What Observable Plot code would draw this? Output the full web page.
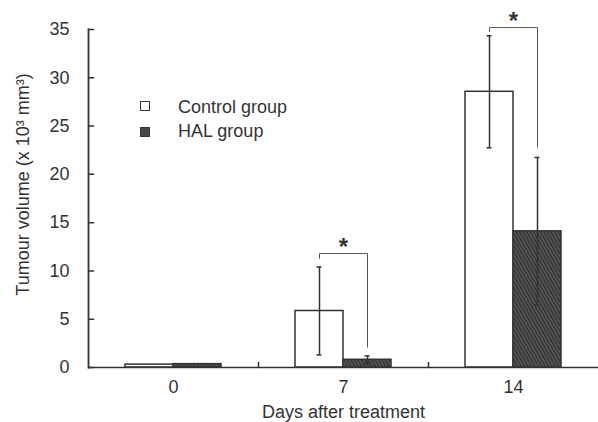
<!DOCTYPE html>
<html><head><meta charset="utf-8">
<script src="https://cdn.jsdelivr.net/npm/d3@7"></script>
<script src="https://cdn.jsdelivr.net/npm/@observablehq/plot@0.6"></script>
<style>
body{margin:0;background:#fff;}
#chart{position:relative;width:598px;height:422px;font-family:"Liberation Sans",Arial,sans-serif;color:#333;}
.sw{position:absolute;width:10px;height:10px;border:1.5px solid #333;box-sizing:border-box;}
.lt{position:absolute;font-size:18px;line-height:18px;white-space:nowrap;}
</style></head><body><div id="chart">
<div class="sw" style="left:140px;top:101px;background:#fff"></div>
<div class="lt" style="left:178px;top:98px">Control group</div>
<div class="sw" style="left:140px;top:127px;background:#474747"></div>
<div class="lt" style="left:178px;top:121.5px">HAL group</div>
</div>
<script>
const days = ["0", "7", "14"];
const groups = ["Control group", "HAL group"];
const controlMean = [0.3, 5.85, 28.55];
const controlSD = [0, 4.55, 5.8];
const halMean = [0.35, 0.8, 14.1];
const halSD = [0, 0.4, 7.65];
const sigDays = ["7", "14"];
const sigTop = [11.8, 35.2];
const sigLeftEnd = [11.3, 34.8];
const sigRightEnd = [2.1, 22.8];
const yTicks = [0, 5, 10, 15, 20, 25, 30, 35];
const yLabel = "Tumour volume (x 10³ mm³)";
const xLabel = "Days after treatment";

const bars = days.flatMap((d, i) => [
  {day: d, group: groups[0], mean: controlMean[i], sd: controlSD[i]},
  {day: d, group: groups[1], mean: halMean[i], sd: halSD[i]}
]);
const err = bars.filter(b => b.sd > 0);
const bracketPts = sigDays.flatMap((d, i) => [
  {day: d, group: groups[0], y: sigLeftEnd[i]},
  {day: d, group: groups[0], y: sigTop[i]},
  {day: d, group: groups[1], y: sigTop[i]},
  {day: d, group: groups[1], y: sigRightEnd[i]}
]);
const stars = sigDays.map((d, i) => ({day: d, y: sigTop[i]}));

const ink = "#333";
const lineShape = {draw(context, l) { context.moveTo(0, 0); context.lineTo(0, -l); }};
const plot = Plot.plot({
  width: 598, height: 422,
  marginLeft: 88, marginRight: 0, marginTop: 29, marginBottom: 55,
  style: {fontFamily: "Liberation Sans, Arial, sans-serif", fontSize: "18px", color: ink, background: "transparent"},
  fx: {domain: days, padding: 0, label: xLabel, labelAnchor: "center", labelArrow: "none", labelOffset: 50, tickSize: 0, tickPadding: 13},
  x: {domain: groups, paddingInner: 0, paddingOuter: 0.735, axis: null},
  y: {domain: [0, 35], ticks: yTicks, tickSize: 0, tickPadding: 19, line: true, label: null},
  marks: [
    Plot.frame({anchor: "left", facetAnchor: "left", stroke: ink, strokeWidth: 1.8}),
    Plot.barY(bars.filter(b => b.group === groups[0]), {fx: "day", x: "group", y: "mean", fill: "#fff", stroke: ink, strokeWidth: 1.5}),
    Plot.barY(bars.filter(b => b.group === groups[1]), {fx: "day", x: "group", y: "mean", fill: "url(#hatch)", stroke: ink, strokeWidth: 1.5}),
    Plot.ruleX(err, {fx: "day", x: "group", y1: d => d.mean - d.sd, y2: d => d.mean + d.sd, stroke: ink, strokeWidth: 1.5}),
    Plot.tickY(err, {fx: "day", x: "group", y: d => d.mean + d.sd, insetLeft: 21.5, insetRight: 21.5, stroke: ink, strokeWidth: 1.5}),
    Plot.tickY(err, {fx: "day", x: "group", y: d => d.mean - d.sd, insetLeft: 21.5, insetRight: 21.5, stroke: ink, strokeWidth: 1.5}),
    Plot.line(bracketPts, {fx: "day", x: "group", y: "y", z: "day", stroke: "#555", strokeWidth: 1}),
    Plot.text(stars, {fx: "day", y: "y", text: () => "*", fontSize: 24, fontWeight: "bold", dy: -6, fill: ink}),
    Plot.ruleY([0], {stroke: ink, strokeWidth: 1.6}),
    // inward y ticks on the left facet
    Plot.vector(yTicks, {fx: () => days[0], y: d => d, frameAnchor: "left", rotate: 90, length: 5, anchor: "start", shape: lineShape, stroke: ink, strokeWidth: 1.5}),
    // inward x ticks at group boundaries
    Plot.vector(days.slice(1), {fx: d => d, frameAnchor: "bottom-left", length: 5, anchor: "start", shape: lineShape, stroke: ink, strokeWidth: 1.5}),
    // rotated y-axis title
    Plot.text([yLabel], {fx: () => days[0], frameAnchor: "left", rotate: -90, dx: -65, dy: -14, text: d => d, fontSize: 18, fill: ink, lineAnchor: "middle", textAnchor: "middle"})
  ]
});

const defs = d3.select(plot).insert("defs", ":first-child");
const pat = defs.append("pattern").attr("id", "hatch").attr("patternUnits", "userSpaceOnUse")
  .attr("width", 3).attr("height", 3).attr("patternTransform", "rotate(-30)");
pat.append("rect").attr("width", 3).attr("height", 3).attr("fill", "#5a5a5a");
pat.append("rect").attr("width", 1.4).attr("height", 3).attr("fill", "#2f2f2f");

document.getElementById("chart").prepend(plot);
</script>
</body></html>
